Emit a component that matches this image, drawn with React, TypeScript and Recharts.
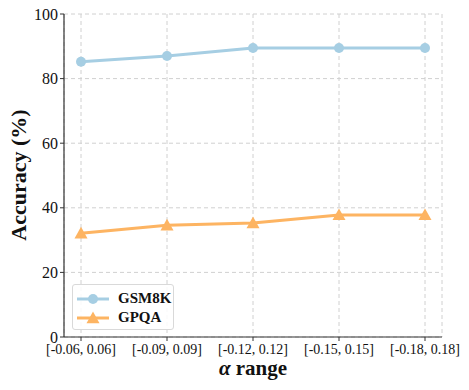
import React from 'react';
import { LineChart, Line, XAxis, YAxis, CartesianGrid } from 'recharts';

const RANGES = ['[-0.06, 0.06]', '[-0.09, 0.09]', '[-0.12, 0.12]', '[-0.15, 0.15]', '[-0.18, 0.18]'];
const GSM8K = [85.2, 87.0, 89.5, 89.5, 89.5];
const GPQA = [32.1, 34.6, 35.3, 37.8, 37.8];
const Y_TICKS = [0, 20, 40, 60, 80, 100];

const BLUE = '#a6cee3';
const ORANGE = '#fdb462';
const FONT = "'Liberation Serif', 'Times New Roman', serif";

const data = RANGES.map((r, i) => ({ range: r, gsm8k: GSM8K[i], gpqa: GPQA[i] }));

const Triangle = (props: any) => {
  const { cx, cy, fill } = props;
  if (cx == null || cy == null) return null;
  const s = 6.5;
  return <path d={`M${cx},${cy - s} L${cx + s},${cy + s * 0.8} L${cx - s},${cy + s * 0.8} Z`} fill={fill} />;
};

// legend drawn on top of the plot, lower left like the matplotlib one
const LegendBox = () => (
  <div
    style={{
      position: 'absolute',
      left: 72,
      top: 284,
      width: 102,
      height: 46,
      border: '1px solid #d9d9d9',
      borderRadius: 3,
      background: 'rgba(255,255,255,0.85)',
      fontWeight: 'bold',
      fontSize: 15,
      boxSizing: 'border-box',
      paddingTop: 4,
    }}
  >
    {[
      { name: 'GSM8K', color: BLUE, tri: false },
      { name: 'GPQA', color: ORANGE, tri: true },
    ].map((it) => (
      <div key={it.name} style={{ display: 'flex', alignItems: 'center', height: 19 }}>
        <svg width={41} height={16} style={{ marginLeft: 4 }}>
          <line x1={0} y1={8} x2={32} y2={8} stroke={it.color} strokeWidth={3} />
          {it.tri ? (
            <path d="M16,1.5 L22.5,13.2 L9.5,13.2 Z" fill={it.color} />
          ) : (
            <circle cx={16} cy={8} r={5} fill={it.color} />
          )}
        </svg>
        <span style={{ color: '#111' }}>{it.name}</span>
      </div>
    ))}
  </div>
);

export default function App() {
  return (
    <div style={{ position: 'absolute', left: 0, top: 0, width: 469, height: 390, background: '#fff', fontFamily: FONT }}>
      <LineChart width={469} height={390} data={data} margin={{ top: 14, right: 27, bottom: 0, left: 0 }} style={{ fontFamily: FONT }}>
        <CartesianGrid stroke="#d0d0d0" strokeDasharray="4 3" />
        <XAxis
          dataKey="range"
          padding={{ left: 17, right: 17 }}
          tickSize={4}
          tickMargin={3}
          stroke="#333"
          tick={{ fill: '#111', fontSize: 14, style: { fontFamily: FONT } }}
          tickLine={{ stroke: '#333' }}
          axisLine={{ stroke: '#333', strokeWidth: 1.2 }}
          interval={0}
          height={53}
          label={() => (
            <text x={253} y={375} textAnchor="middle" style={{ fontFamily: FONT }} fontSize={21} fontWeight="bold" fill="#111">
              <tspan fontStyle="italic">α</tspan> range
            </text>
          )}
        />
        <XAxis xAxisId="top" orientation="top" dataKey="range" height={0} tick={false} tickLine={false} axisLine={{ stroke: '#333', strokeWidth: 1.2 }} />
        <YAxis
          domain={[0, 100]}
          ticks={Y_TICKS}
          width={64}
          tickSize={4}
          tick={{ fill: '#111', fontSize: 16, style: { fontFamily: FONT } }}
          tickLine={{ stroke: '#333' }}
          axisLine={{ stroke: '#333', strokeWidth: 1.2 }}
          label={() => (
            <text
              x={18}
              y={175}
              transform="rotate(-90, 18, 175)"
              textAnchor="middle"
              dominantBaseline="central"
              style={{ fontFamily: FONT }}
              fontSize={22}
              fontWeight="bold"
              fill="#111"
            >
              Accuracy (%)
            </text>
          )}
        />
        <YAxis yAxisId="right" orientation="right" domain={[0, 100]} width={0} tick={false} tickLine={false} axisLine={{ stroke: '#333', strokeWidth: 1.2 }} />
        <Line
          dataKey="gsm8k"
          name="GSM8K"
          stroke={BLUE}
          strokeWidth={3}
          dot={{ r: 5, fill: BLUE, stroke: BLUE, strokeWidth: 0 }}
          activeDot={false}
          isAnimationActive={false}
        />
        <Line
          dataKey="gpqa"
          name="GPQA"
          stroke={ORANGE}
          strokeWidth={3}
          dot={(props: any) => <Triangle key={props.index} {...props} fill={ORANGE} />}
          activeDot={false}
          isAnimationActive={false}
        />
      </LineChart>
      <LegendBox />
    </div>
  );
}
